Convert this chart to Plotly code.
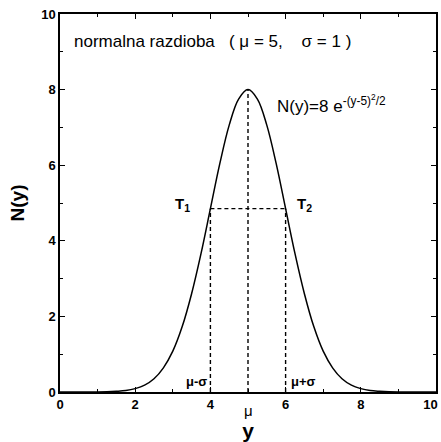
import plotly.graph_objects as go

# curve points
Y_VALS = [0.0, 1.0, 1.5, 1.75, 2.0, 2.25, 2.5, 2.75, 3.0, 3.25, 3.5, 3.75, 4.0, 4.25, 4.5, 4.75,
          5.0, 5.25, 5.5, 5.75, 6.0, 6.25, 6.5, 6.75, 7.0, 7.25, 7.5, 7.75, 8.0, 8.25, 8.5, 9.0, 10.0]
N_VALS = [0.0, 0.0, 0.02, 0.04, 0.09, 0.18, 0.35, 0.64, 1.08, 1.73, 2.60, 3.66, 4.85, 6.04, 7.06, 7.75,
          8.0, 7.75, 7.06, 6.04, 4.85, 3.66, 2.60, 1.73, 1.08, 0.64, 0.35, 0.18, 0.09, 0.04, 0.02, 0.0, 0.0]

TICKS = [0, 2, 4, 6, 8, 10]
X_TICKTEXT = ["0", "2", "4", "6", "8", "10\u00a0\u00a0\u00a0"]  # last label nudged in from the edge

MU = 5.0
SIGMA = 1.0
PEAK = 8.0
HALF = 4.85  # N at mu +/- sigma

FONT = "Liberation Sans, Arial, sans-serif"
DASH = dict(color="black", width=1.4, dash="4px,3px")
NB = "\u00a0"

fig = go.Figure()
fig.add_trace(go.Scatter(x=Y_VALS, y=N_VALS, mode="lines", line=dict(color="black", width=1.5, shape="spline")))
# dashed guides
fig.add_trace(go.Scatter(x=[MU, MU], y=[0, PEAK], mode="lines", line=DASH))
fig.add_trace(go.Scatter(x=[MU - SIGMA, MU - SIGMA], y=[0, HALF], mode="lines", line=DASH))
fig.add_trace(go.Scatter(x=[MU + SIGMA, MU + SIGMA], y=[0, HALF], mode="lines", line=DASH))
fig.add_trace(go.Scatter(x=[MU - SIGMA, MU + SIGMA], y=[HALF, HALF], mode="lines", line=DASH))


def txt(x, y, text, size=16, bold=False, **kw):
    fig.add_annotation(x=x, y=y, text=text, showarrow=False,
                       font=dict(family=FONT, size=size, color="black",
                                 weight="bold" if bold else "normal"), **kw)


title = "normalna razdioba" + NB * 3 + "(" + NB + "μ = 5," + NB * 4 + "σ = 1" + NB + ")"
txt(0.33, 9.27, title, size=17, xanchor="left")
txt(5.72, 7.62, "N(y)=8 e<sup>-(y-5)<sup>2</sup>/2</sup>", size=17, xanchor="left")
txt(3.25, 4.95, "T<sub>1</sub>", size=15, bold=True)
txt(6.5, 4.95, "T<sub>2</sub>", size=15, bold=True)
txt(3.62, 0.27, "μ-σ", size=13, bold=True)
txt(6.48, 0.27, "μ+σ", size=13, bold=True)
txt(MU, 0, "μ", size=15, yshift=-18)

axis = dict(
    range=[0, 10], tickvals=TICKS, ticks="inside", ticklen=5, tickwidth=1.2, tickcolor="black",
    minor=dict(ticks="inside", dtick=1, ticklen=3, tickcolor="black"),
    showline=True, linecolor="black", linewidth=1.5, mirror="ticks",
    showgrid=False, zeroline=False, ticklabeloverflow="allow", automargin=False,
    tickfont=dict(family=FONT, size=13, color="black", weight="bold"),
)

fig.update_layout(
    width=441, height=442,
    plot_bgcolor="white", paper_bgcolor="white",
    showlegend=False,
    margin=dict(l=60, r=5, t=14, b=50),
    xaxis=dict(axis, ticktext=X_TICKTEXT,
               title=dict(text="y", font=dict(family=FONT, size=21, color="black", weight="bold"), standoff=12)),
    yaxis=dict(axis, title=dict(text="N(y)", font=dict(family=FONT, size=19, color="black", weight="bold"), standoff=12)),
)

fig.write_html("out.html", config={"displayModeBar": False},
               post_script="document.body.style.margin='0';")
